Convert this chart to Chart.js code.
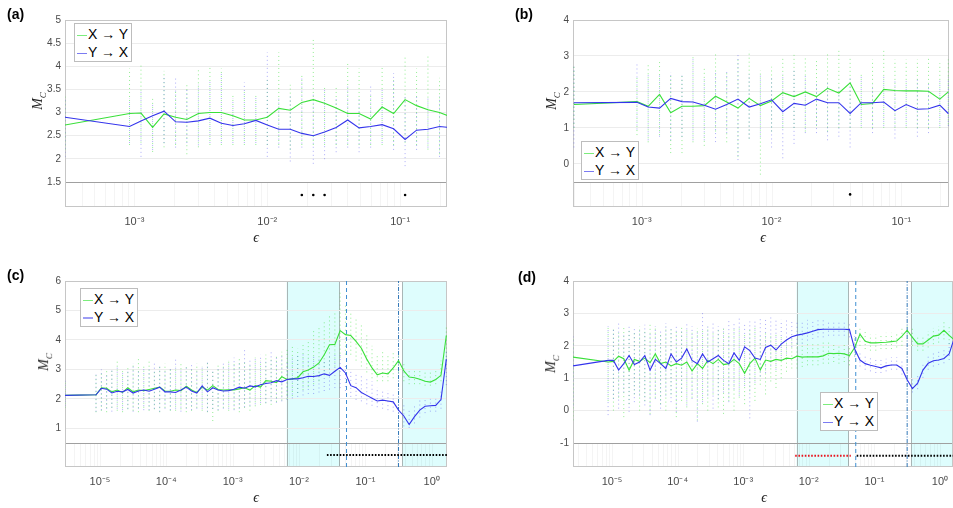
<!DOCTYPE html>
<html>
<head>
<meta charset="utf-8">
<script src="https://cdn.jsdelivr.net/npm/chart.js@4.4.0/dist/chart.umd.min.js"></script>
<style>
  body { margin: 0; background: #fff; }
  #wrap { position: relative; width: 953px; height: 508px; overflow: hidden; font-family: "Liberation Sans", Arial, sans-serif; }
  #wrap canvas { position: absolute; left: 0; top: 0; }
  .panel { position: absolute; font-weight: bold; font-size: 14px; line-height: 14px; color: #000; }
  .ylab { position: absolute; transform: translate(-50%, -50%) rotate(-90deg); font-family: "Liberation Serif", "DejaVu Serif", serif; font-style: italic; font-size: 14px; white-space: nowrap; color: #262626; }
  .ylab sub { font-size: 9px; }
  .xlab { position: absolute; transform: translate(-50%, -50%); font-family: "Liberation Serif", "DejaVu Serif", serif; font-style: italic; font-size: 14px; color: #262626; }
  .legend { position: absolute; background: #fff; border: 1px solid #bdbdbd; font-size: 14px; line-height: 18px; padding: 1px 3px 0 2px; }
  .legend .row { white-space: nowrap; }
  .legend .sw { display: inline-block; width: 10px; height: 1px; vertical-align: middle; margin-right: 1px; }
</style>
</head>
<body>
<div id="wrap">
  <canvas id="pa" width="953" height="508"></canvas>
  <canvas id="pb" width="953" height="508"></canvas>
  <canvas id="pc" width="953" height="508"></canvas>
  <canvas id="pd" width="953" height="508"></canvas>

  <div class="panel" style="left:7px;top:7px">(a)</div>
  <div class="panel" style="left:515px;top:7px">(b)</div>
  <div class="panel" style="left:7px;top:268px">(c)</div>
  <div class="panel" style="left:518px;top:270px">(d)</div>

  <div class="ylab" style="left:39px;top:101px">M<sub>C</sub></div>
  <div class="ylab" style="left:553px;top:101px">M<sub>C</sub></div>
  <div class="ylab" style="left:45px;top:362px">M<sub>C</sub></div>
  <div class="ylab" style="left:552px;top:364px">M<sub>C</sub></div>

  <div class="xlab" style="left:256px;top:238px">ϵ</div>
  <div class="xlab" style="left:763px;top:238px">ϵ</div>
  <div class="xlab" style="left:256px;top:498px">ϵ</div>
  <div class="xlab" style="left:764px;top:498px">ϵ</div>

  <div class="legend" style="left:74px;top:23px">
    <div class="row"><span class="sw" style="background:#7ced7c"></span>X → Y</div>
    <div class="row"><span class="sw" style="background:#7b7bf2"></span>Y → X</div>
  </div>
  <div class="legend" style="left:581px;top:141px">
    <div class="row"><span class="sw" style="background:#7ced7c"></span>X → Y</div>
    <div class="row"><span class="sw" style="background:#7b7bf2"></span>Y → X</div>
  </div>
  <div class="legend" style="left:80px;top:288px">
    <div class="row"><span class="sw" style="background:#7ced7c"></span>X → Y</div>
    <div class="row"><span class="sw" style="background:#9d9df5;height:2px"></span>Y → X</div>
  </div>
  <div class="legend" style="left:820px;top:392px">
    <div class="row"><span class="sw" style="background:#7ced7c"></span>X → Y</div>
    <div class="row"><span class="sw" style="background:#7b7bf2"></span>Y → X</div>
  </div>
</div>

<script>
// ---- data: panels (a) and (b) share the same epsilon grid ----
var epsAB = [3.0e-4, 9.18e-4, 1.12e-3, 1.37e-3, 1.67e-3, 2.04e-3, 2.48e-3, 3.03e-3, 3.70e-3, 4.51e-3,
             5.51e-3, 6.72e-3, 8.20e-3, 0.0100, 0.0122, 0.0149, 0.0182, 0.0222, 0.0270, 0.0330,
             0.0403, 0.0491, 0.0600, 0.0732, 0.0893, 0.109, 0.133, 0.162, 0.198, 0.23];

var greenA = [2.73, 2.98, 2.99, 2.68, 2.97, 2.90, 2.85, 2.98, 3.00, 3.00, 2.93, 2.84, 2.84, 2.90, 3.09,
              3.05, 3.22, 3.28, 3.20, 3.10, 2.98, 2.98, 2.86, 3.12, 2.98, 3.28, 3.15, 3.06, 3.00, 2.93];
var blueA  = [2.90, 2.70, 2.82, 2.93, 3.03, 2.80, 2.79, 2.82, 2.88, 2.77, 2.72, 2.76, 2.83, 2.73, 2.64,
              2.64, 2.55, 2.50, 2.58, 2.68, 2.84, 2.67, 2.70, 2.74, 2.65, 2.42, 2.62, 2.64, 2.70, 2.68];
var greenLoA = [2.2, 2.3, 2.35, 2.15, 2.25, 2.3, 2.1, 2.25, 2.3, 2.3, 2.3, 2.3, 2.3, 2.3, 2.3,
                2.2, 2.3, 2.3, 2.3, 2.3, 2.3, 2.3, 2.3, 2.3, 2.3, 2.35, 2.3, 2.2, 2.1, 2.3];
var greenHiA = [3.4, 3.95, 4.05, 3.35, 3.9, 3.5, 3.6, 3.95, 4.0, 3.95, 3.4, 3.5, 3.4, 3.7, 4.3,
                3.6, 3.8, 4.6, 3.55, 3.55, 4.05, 3.95, 3.4, 4.0, 3.7, 4.25, 3.95, 4.25, 3.75, 4.15];
var blueLoA  = [2.0, 2.3, 2.0, 2.15, 2.3, 2.2, 2.3, 2.25, 2.3, 2.3, 2.3, 2.3, 2.3, 2.0, 2.2,
                1.9, 2.2, 1.85, 1.95, 2.1, 2.2, 2.1, 2.2, 2.3, 2.15, 1.8, 2.15, 2.2, 2.0, 2.3];
var blueHiA  = [3.3, 3.3, 3.5, 3.2, 3.75, 3.75, 3.5, 3.6, 3.7, 3.85, 3.3, 3.65, 3.35, 4.3, 3.3,
                3.4, 3.8, 3.45, 3.5, 3.35, 3.6, 3.3, 3.6, 3.5, 3.85, 3.35, 3.4, 3.3, 3.35, 3.3];
var sigDotsA = [0.0182, 0.0222, 0.0270, 0.109];

var greenB = [1.65, 1.73, 1.60, 1.93, 1.42, 1.60, 1.60, 1.62, 1.88, 1.72, 1.55, 1.82, 1.62, 1.75, 1.98,
              1.87, 2.00, 1.87, 2.10, 1.97, 2.25, 1.65, 1.68, 2.07, 2.04, 2.03, 2.03, 2.02, 1.80, 2.00];
var blueB  = [1.70, 1.71, 1.58, 1.55, 1.82, 1.73, 1.72, 1.63, 1.52, 1.65, 1.80, 1.58, 1.67, 1.78, 1.45,
              1.68, 1.63, 1.80, 1.70, 1.70, 1.40, 1.70, 1.70, 1.72, 1.48, 1.65, 1.52, 1.53, 1.63, 1.40];
var greenLoB = [1.0, 0.8, 0.6, 0.8, 0.3, 0.3, 0.6, 0.5, 0.9, 0.6, 0.2, 0.7, -0.3, 0.9, 1.0,
                1.0, 0.9, 1.05, 0.9, 1.0, 1.0, 1.0, 1.0, 1.0, 1.0, 1.0, 1.0, 1.0, 1.0, 1.1];
var greenHiB = [2.7, 2.4, 2.8, 2.85, 2.5, 2.5, 3.0, 2.7, 3.1, 2.6, 2.95, 3.15, 2.6, 2.7, 3.0,
                3.1, 3.0, 2.9, 3.05, 3.15, 3.0, 2.5, 2.9, 3.15, 2.9, 2.9, 2.9, 3.0, 2.8, 2.9];
var blueLoB  = [0.4, 0.9, 0.6, 0.7, 0.6, 0.7, 0.6, 0.6, 0.55, 0.8, 0.05, 0.65, 0.7, 0.4, 0.1,
                0.5, 0.8, 0.8, 0.6, 0.7, 0.4, 1.0, 0.8, 1.0, 0.65, 1.0, 0.7, 0.8, 1.0, 1.0];
var blueHiB  = [2.7, 2.8, 2.5, 2.5, 2.55, 2.5, 2.95, 2.4, 2.6, 2.6, 3.1, 2.5, 2.5, 2.4, 2.5,
                2.6, 2.5, 2.3, 2.3, 2.2, 2.4, 2.5, 2.2, 2.5, 2.3, 2.3, 2.4, 2.3, 2.35, 2.4];
var sigDotsB = [0.0403];

// ---- data: panels (c) and (d) ----
var epsGrid = [8.71e-6, 1.05e-5, 1.26e-5, 1.51e-5, 1.82e-5, 2.19e-5, 2.63e-5, 3.16e-5, 3.80e-5, 4.57e-5,
               5.50e-5, 6.61e-5, 7.94e-5, 9.55e-5, 1.15e-4, 1.38e-4, 1.66e-4, 2.00e-4, 2.40e-4, 2.88e-4,
               3.47e-4, 4.17e-4, 5.01e-4, 6.03e-4, 7.24e-4, 8.71e-4, 1.05e-3, 1.26e-3, 1.51e-3, 1.82e-3,
               2.19e-3, 2.63e-3, 3.16e-3, 3.80e-3, 4.57e-3, 5.50e-3, 6.61e-3, 7.94e-3, 9.55e-3, 0.0115,
               0.0138, 0.0166, 0.0200, 0.0240, 0.0288, 0.0347, 0.0417, 0.0501, 0.0603, 0.0724,
               0.0871, 0.105, 0.126, 0.151, 0.182, 0.219, 0.263, 0.316, 0.380, 0.457,
               0.550, 0.661, 0.794, 0.955, 1.15, 1.38, 1.66];
var epsC = [2.97e-6].concat(epsGrid);
var epsD = [2.54e-6].concat(epsGrid);

var greenC = [2.12, 2.14, 2.38, 2.36, 2.24, 2.30, 2.22, 2.38, 2.24, 2.30, 2.28,
              2.32, 2.36, 2.40, 2.27, 2.26, 2.30, 2.28, 2.43, 2.30, 2.22,
              2.40, 2.30, 2.45, 2.32, 2.30, 2.31, 2.30, 2.34, 2.38, 2.30,
              2.45, 2.40, 2.62, 2.60, 2.55, 2.75, 2.66, 2.68, 2.72, 2.92,
              2.98, 3.08, 3.22, 3.50, 3.84, 3.85, 4.32, 4.18, 4.15, 3.95,
              3.72, 3.35, 3.05, 2.82, 2.88, 2.85, 3.05, 3.30, 2.95, 2.74,
              2.72, 2.67, 2.60, 2.57, 2.66, 2.80, 4.15];
var blueC  = [2.12, 2.14, 2.36, 2.33, 2.20, 2.26, 2.24, 2.32, 2.20, 2.27, 2.30,
              2.26, 2.33, 2.40, 2.24, 2.24, 2.22, 2.30, 2.40, 2.27, 2.20,
              2.44, 2.24, 2.38, 2.30, 2.27, 2.28, 2.33, 2.40, 2.36, 2.44,
              2.41, 2.48, 2.52, 2.55, 2.62, 2.58, 2.66, 2.68, 2.68, 2.72,
              2.77, 2.76, 2.79, 2.85, 2.80, 2.94, 3.07, 2.88, 2.45, 2.38,
              2.22, 2.12, 2.02, 1.93, 1.96, 1.93, 1.90, 1.62, 1.42, 1.13,
              1.40, 1.62, 1.75, 1.77, 1.78, 1.98, 3.35];
var greenLoC = [1.7, 1.55, 1.6, 1.55, 1.7, 1.6, 1.55, 1.65, 1.6, 1.55, 1.7,
                1.6, 1.65, 1.55, 1.7, 1.6, 1.6, 1.65, 1.55, 1.6, 1.7,
                1.6, 1.55, 1.25, 1.6, 1.7, 1.6, 1.65, 1.55, 1.7, 1.6,
                1.75, 1.8, 1.85, 1.8, 1.9, 1.95, 2.0, 2.1, 2.2, 2.3,
                2.4, 2.5, 2.6, 2.8, 3.0, 3.1, 3.4, 3.5, 3.5, 3.3,
                3.1, 2.9, 2.7, 2.6, 2.6, 2.6, 2.7, 2.9, 2.6, 2.5,
                2.5, 2.5, 2.45, 2.45, 2.5, 2.6, 3.3];
var greenHiC = [2.6, 2.8, 2.9, 3.0, 2.95, 3.3, 3.0, 3.1, 3.2, 3.45, 3.1,
                3.3, 3.0, 3.1, 3.2, 3.0, 3.1, 3.2, 3.1, 3.0, 3.2,
                3.1, 3.3, 3.0, 3.2, 3.1, 3.3, 3.2, 3.4, 3.3, 3.2,
                3.4, 3.3, 3.5, 3.4, 3.5, 3.6, 3.7, 3.8, 3.7, 3.9,
                4.0, 4.3, 4.5, 4.6, 4.9, 5.0, 5.6, 5.2, 4.9, 4.7,
                4.5, 4.2, 3.8, 3.5, 3.6, 3.5, 3.6, 3.7, 3.2, 3.0,
                3.0, 2.95, 2.9, 2.9, 3.0, 3.3, 4.5];
var blueLoC  = [1.7, 1.5, 1.55, 1.6, 1.5, 1.6, 1.55, 1.6, 1.5, 1.6, 1.55,
                1.55, 1.6, 1.5, 1.6, 1.55, 1.6, 1.5, 1.6, 1.55, 1.6,
                1.6, 1.5, 1.6, 1.55, 1.6, 1.6, 1.55, 1.6, 1.65, 1.7,
                1.75, 1.8, 1.8, 1.85, 1.8, 1.85, 1.9, 1.95, 2.0, 2.05,
                2.1, 2.1, 2.15, 2.2, 2.25, 2.3, 2.3, 2.2, 2.0, 1.9,
                1.85, 1.75, 1.7, 1.65, 1.6, 1.55, 1.5, 1.3, 1.0, 0.95,
                1.1, 1.3, 1.45, 1.5, 1.5, 1.6, 2.4];
var blueHiC  = [2.7, 2.9, 3.0, 2.85, 3.0, 3.1, 2.9, 3.0, 3.2, 3.0, 3.1,
                3.0, 3.2, 3.1, 3.0, 3.1, 3.35, 3.0, 3.1, 3.2, 3.0,
                3.1, 3.3, 3.0, 3.1, 3.2, 3.3, 3.4, 3.3, 3.7, 3.3,
                3.4, 3.5, 3.3, 3.6, 3.4, 3.5, 3.3, 3.4, 3.5, 3.6,
                3.4, 3.5, 3.4, 3.3, 3.5, 3.6, 3.5, 3.2, 3.0, 2.9,
                2.8, 2.7, 2.6, 2.4, 2.3, 2.3, 2.2, 2.0, 1.8, 1.6,
                1.8, 1.95, 2.0, 2.0, 2.0, 2.3, 3.6];

var greenD = [1.65, 1.50, 1.52, 1.68, 1.60, 1.25, 1.58, 1.52, 1.62, 1.48, 1.75,
              1.45, 1.50, 1.38, 1.45, 1.40, 1.50, 1.22, 1.45, 1.30, 1.55,
              1.45, 1.58, 1.42, 1.45, 1.58, 1.45, 1.15, 1.45, 1.62, 1.25,
              1.56, 1.52, 1.58, 1.55, 1.62, 1.60, 1.68, 1.65, 1.66, 1.66,
              1.66, 1.69, 1.77, 1.76, 1.77, 1.75, 1.70, 1.95, 2.36, 2.14,
              2.09, 2.09, 2.10, 2.11, 2.13, 2.15, 2.30, 2.48, 2.26, 2.06,
              2.06, 2.18, 2.30, 2.33, 2.48, 2.32, 2.18];
var blueD  = [1.38, 1.55, 1.55, 1.25, 1.45, 1.70, 1.42, 1.50, 1.70, 1.25, 1.58,
              1.45, 1.30, 1.75, 1.50, 1.62, 1.90, 1.55, 1.45, 1.75, 1.50,
              1.60, 1.70, 1.55, 1.45, 1.78, 1.55, 1.97, 1.85, 1.62, 1.58,
              1.95, 2.02, 1.87, 2.05, 2.18, 2.28, 2.33, 2.36, 2.40, 2.45,
              2.50, 2.51, 2.51, 2.51, 2.51, 2.51, 2.50, 1.90, 1.56, 1.45,
              1.40, 1.36, 1.32, 1.38, 1.41, 1.41, 1.30, 0.95, 0.68, 0.85,
              1.25, 1.46, 1.54, 1.56, 1.61, 1.75, 2.25];
var greenLoD = [-0.3, 0.3, 0.0, 0.4, -0.2, 0.2, 0.5, 0.0, 0.3, -0.1, 0.4,
                0.2, 0.0, 0.5, -0.2, 0.3, 0.1, 0.4, -0.3, 0.2, 0.0,
                0.5, 0.1, -0.1, 0.3, 0.0, 0.4, 0.2, 0.6, 0.3, 0.8,
                0.5, 0.9, 0.7, 1.0, 1.2, 1.3, 1.3, 1.35, 1.4, 1.4,
                1.4, 1.45, 1.45, 1.5, 1.45, 1.5, 1.4, 1.7, 2.0, 1.9,
                1.85, 1.85, 1.9, 1.9, 1.9, 1.95, 2.0, 2.2, 2.0, 1.85,
                1.85, 1.95, 2.05, 2.1, 2.2, 2.05, 1.9];
var greenHiD = [2.2, 2.55, 2.5, 2.4, 2.6, 2.5, 2.45, 2.6, 2.5, 2.7, 2.55,
                2.4, 2.6, 2.5, 2.45, 2.6, 2.5, 2.4, 2.55, 2.5, 2.6,
                2.45, 2.5, 2.6, 2.4, 2.5, 2.55, 2.4, 2.5, 2.6, 2.3,
                2.4, 2.3, 2.35, 2.3, 2.2, 2.2, 2.15, 2.1, 2.1, 2.05,
                2.05, 2.1, 2.1, 2.1, 2.05, 2.05, 2.0, 2.3, 2.6, 2.45,
                2.35, 2.35, 2.35, 2.4, 2.4, 2.4, 2.55, 2.7, 2.55, 2.3,
                2.3, 2.45, 2.55, 2.6, 2.75, 2.6, 2.4];
var blueLoD  = [0.1, -0.2, 0.3, 0.0, 0.5, -0.1, 0.2, 0.4, 0.1, -0.2, 0.3,
                0.0, 0.4, 0.2, -0.1, 0.5, 0.1, 0.3, -0.4, 0.2, 0.4,
                0.0, 0.3, 0.5, 0.2, 0.6, 0.4, 0.7, -0.3, 0.8, 1.0,
                1.1, 1.3, 1.2, 1.5, 1.7, 1.9, 2.0, 2.0, 2.1, 2.15,
                2.2, 2.2, 2.25, 2.25, 2.25, 2.25, 2.2, 1.6, 1.3, 1.2,
                1.15, 1.1, 1.1, 1.15, 1.2, 1.2, 1.05, 0.75, 0.5, 0.6,
                0.95, 1.2, 1.3, 1.35, 1.4, 1.5, 1.9];
var blueHiD  = [2.3, 2.6, 2.5, 2.7, 2.4, 2.6, 2.55, 2.5, 2.65, 2.45, 2.6,
                2.5, 2.7, 2.55, 2.6, 2.5, 2.7, 2.6, 2.5, 3.1, 2.6,
                2.7, 2.6, 2.55, 2.8, 2.7, 2.9, 2.65, 2.75, 2.8, 2.85,
                2.8, 2.9, 2.85, 2.8, 2.8, 2.8, 2.8, 2.8, 2.8, 2.8,
                2.8, 2.8, 2.8, 2.75, 2.75, 2.75, 2.75, 2.3, 1.85, 1.7,
                1.65, 1.6, 1.6, 1.6, 1.65, 1.65, 1.55, 1.25, 1.0, 1.15,
                1.5, 1.7, 1.8, 1.85, 1.95, 2.1, 2.5];

// shaded windows, vertical markers and significance runs (c, d)
var shadeCD = [[6.5e-3, 0.040], [0.36, 2]];
var dashedCD = [0.052];
var dashDotCD = [0.316];
var sigRunsC = [[0.0263, 1.7]];
var sigColorsC = ['#000'];
var sigRunsD = [[6.2e-3, 0.0437], [0.0537, 1.6]];
var sigColorsD = ['#e8141e', '#000'];

// tick labels
var xTicksAB = [1e-3, 1e-2, 1e-1];
var xTicksCD = [1e-5, 1e-4, 1e-3, 1e-2, 1e-1, 1];
var yTicksA = [1.5, 2, 2.5, 3, 3.5, 4, 4.5, 5];
var yTicksB = [0, 1, 2, 3, 4];
var yTicksC = [1, 2, 3, 4, 5, 6];
var yTicksD = [-1, 0, 1, 2, 3, 4];

var GREEN = 'rgb(58,224,58)';
var BLUE = 'rgb(52,52,236)';
var GREEN_DOTS = 'rgba(58,224,58,0.55)';
var BLUE_DOTS = 'rgba(70,70,240,0.45)';

var SUP = {'-': '⁻', '0': '⁰', '1': '¹', '2': '²', '3': '³', '4': '⁴', '5': '⁵', '6': '⁶', '7': '⁷', '8': '⁸', '9': '⁹'};
function powLabel(v) {
    var p = String(Math.round(Math.log10(v)));
    return '10' + p.split('').map(function(c){ return SUP[c]; }).join('');
}

function series(eps, vals) {
    return eps.map(function(e, j){ return {x: e, y: vals[j]}; });
}
function columns(eps, lo, hi) {
    var pts = [];
    eps.forEach(function(e, j){
        pts.push({x: e, y: lo[j]}, {x: e, y: hi[j]}, {x: e, y: null});
    });
    return pts;
}

// draws the cyan windows, the bottom strip (minor grid + threshold) and the axes box
var stripPlugin = {
    id: 'strip',
    beforeDraw: function(chart, args, o) {
        var ctx = chart.ctx, a = chart.chartArea, xs = chart.scales.x;
        ctx.save();
        (o.shade || []).forEach(function(w){
            var x1 = Math.max(a.left, xs.getPixelForValue(w[0]));
            var x2 = Math.min(a.right, xs.getPixelForValue(w[1]));
            ctx.fillStyle = 'rgb(222,253,253)';
            ctx.fillRect(x1, a.top, x2 - x1, a.bottom - a.top);
            ctx.strokeStyle = '#a9b6b6';
            ctx.lineWidth = 1;
            ctx.beginPath();
            [x1, x2].forEach(function(px){
                if (px > a.left + 1 && px < a.right - 1) {
                    ctx.moveTo(Math.round(px) + 0.5, a.top);
                    ctx.lineTo(Math.round(px) + 0.5, a.bottom);
                }
            });
            ctx.stroke();
        });
        ctx.restore();
    },
    beforeDatasetsDraw: function(chart, args, o) {
        var ctx = chart.ctx, a = chart.chartArea, xs = chart.scales.x, ys = chart.scales.y;
        var yT = Math.round(ys.getPixelForValue(o.threshold)) + 0.5;
        ctx.save();
        ctx.lineWidth = 1;
        ctx.strokeStyle = 'rgba(0,0,0,0.045)';
        ctx.beginPath();
        for (var d = Math.floor(Math.log10(xs.min)); d <= Math.ceil(Math.log10(xs.max)); d++) {
            for (var m = 1; m < 10; m++) {
                var v = m * Math.pow(10, d);
                if (v <= xs.min || v >= xs.max) continue;
                var px = Math.round(xs.getPixelForValue(v)) + 0.5;
                ctx.moveTo(px, yT);
                ctx.lineTo(px, a.bottom);
            }
        }
        ctx.stroke();
        ctx.strokeStyle = '#a0a0a0';
        ctx.beginPath();
        ctx.moveTo(a.left, yT);
        ctx.lineTo(a.right, yT);
        ctx.stroke();
        ctx.strokeStyle = '#c6c6c6';
        ctx.strokeRect(Math.round(a.left) + 0.5, Math.round(a.top) + 0.5,
                       Math.round(a.right - a.left) - 1, Math.round(a.bottom - a.top) - 1);
        ctx.restore();
    }
};

function makePanel(id, p) {
    var datasets = [
        { data: columns(p.eps, p.greenLo, p.greenHi), borderColor: GREEN_DOTS, borderWidth: 1,
          borderDash: [1, 3], pointRadius: 0, order: 5 },
        { data: columns(p.eps, p.blueLo, p.blueHi), borderColor: BLUE_DOTS, borderWidth: 1,
          borderDash: [1, 3], borderDashOffset: 2, pointRadius: 0, order: 4 }
    ];
    (p.dashed || []).forEach(function(e){
        datasets.push({ data: [{x: e, y: p.yMin}, {x: e, y: p.yMax}], borderColor: '#3f8fd2',
                        borderWidth: 1, borderDash: [4, 3], pointRadius: 0, order: 3 });
    });
    (p.dashDot || []).forEach(function(e){
        datasets.push({ data: [{x: e, y: p.yMin}, {x: e, y: p.yMax}], borderColor: '#3479b8',
                        borderWidth: 1, borderDash: [4, 1.5, 1, 1.5], pointRadius: 0, order: 3 });
    });
    datasets.push({ data: series(p.eps, p.green), borderColor: GREEN, borderWidth: 1.1,
                    pointRadius: 0, order: 2 });
    datasets.push({ data: series(p.eps, p.blue), borderColor: BLUE, borderWidth: 1.1,
                    pointRadius: 0, order: 1 });
    if (p.sigDots) {
        datasets.push({ data: p.sigDots.map(function(e){ return {x: e, y: p.sigLevel}; }),
                        showLine: false, pointRadius: 1.3, pointBorderWidth: 0,
                        pointBackgroundColor: '#000', order: 0 });
    }
    (p.sigRuns || []).forEach(function(r, j){
        datasets.push({ data: [{x: r[0], y: p.sigLevel}, {x: r[1], y: p.sigLevel}],
                        borderColor: p.sigColors[j], borderWidth: 2, borderDash: [1.6, 1.6],
                        pointRadius: 0, order: 0 });
    });

    var yFont = { family: '"Liberation Sans", Arial, sans-serif', size: 10 };
    var xFont = { family: '"Liberation Sans", Arial, sans-serif', size: 11 };
    return new Chart(document.getElementById(id), {
        type: 'line',
        data: { datasets: datasets },
        options: {
            responsive: false,
            animation: false,
            devicePixelRatio: 1,
            layout: { padding: p.padding },
            plugins: { legend: { display: false }, tooltip: { enabled: false },
                       strip: { threshold: p.threshold, shade: p.shade } },
            elements: { line: { tension: 0 } },
            scales: {
                x: {
                    type: 'logarithmic', min: p.xMin, max: p.xMax,
                    afterBuildTicks: function(s){ s.ticks = p.xTicks.map(function(v){ return {value: v}; }); },
                    afterFit: function(s){ s.height = 30; },
                    ticks: { callback: function(v){ return powLabel(v); }, font: xFont,
                             color: '#4a4a4a', padding: 0, maxRotation: 0, autoSkip: false },
                    grid: { display: false },
                    border: { display: false }
                },
                y: {
                    type: 'linear', min: p.yMin, max: p.yMax,
                    afterBuildTicks: function(s){ s.ticks = p.yTicks.map(function(v){ return {value: v}; }); },
                    afterFit: function(s){ s.width = 30; },
                    ticks: { callback: function(v){ return String(v); }, font: yFont,
                             color: '#4a4a4a', padding: 4 },
                    grid: { color: '#ececec', drawTicks: false },
                    border: { display: false }
                }
            }
        },
        plugins: [stripPlugin]
    });
}

makePanel('pa', {
    eps: epsAB, green: greenA, blue: blueA, greenLo: greenLoA, greenHi: greenHiA,
    blueLo: blueLoA, blueHi: blueHiA, sigDots: sigDotsA, sigLevel: 1.22,
    xMin: 3.0e-4, xMax: 0.2254, xTicks: xTicksAB,
    yMin: 0.96, yMax: 5, yTicks: yTicksA, threshold: 1.5,
    padding: { left: 35, right: 506, top: 20, bottom: 271 }
});
makePanel('pb', {
    eps: epsAB, green: greenB, blue: blueB, greenLo: greenLoB, greenHi: greenHiB,
    blueLo: blueLoB, blueHi: blueHiB, sigDots: sigDotsB, sigLevel: -0.85,
    xMin: 2.95e-4, xMax: 0.233, xTicks: xTicksAB,
    yMin: -1.2, yMax: 4, yTicks: yTicksB, threshold: -0.5,
    padding: { left: 543, right: 0, top: 20, bottom: 271 }
});
makePanel('pc', {
    eps: epsC, green: greenC, blue: blueC, greenLo: greenLoC, greenHi: greenHiC,
    blueLo: blueLoC, blueHi: blueHiC, sigRuns: sigRunsC, sigColors: sigColorsC, sigLevel: 0.1,
    shade: shadeCD, dashed: dashedCD, dashDot: dashDotCD,
    xMin: 2.97e-6, xMax: 1.7, xTicks: xTicksCD,
    yMin: -0.31, yMax: 6, yTicks: yTicksC, threshold: 0.5,
    padding: { left: 35, right: 506, top: 281, bottom: 11 }
});
makePanel('pd', {
    eps: epsD, green: greenD, blue: blueD, greenLo: greenLoD, greenHi: greenHiD,
    blueLo: blueLoD, blueHi: blueHiD, sigRuns: sigRunsD, sigColors: sigColorsD, sigLevel: -1.39,
    shade: shadeCD, dashed: dashedCD, dashDot: dashDotCD,
    xMin: 2.54e-6, xMax: 1.58, xTicks: xTicksCD,
    yMin: -1.74, yMax: 4, yTicks: yTicksD, threshold: -1,
    padding: { left: 543, right: 0, top: 281, bottom: 11 }
});
</script>
</body>
</html>
